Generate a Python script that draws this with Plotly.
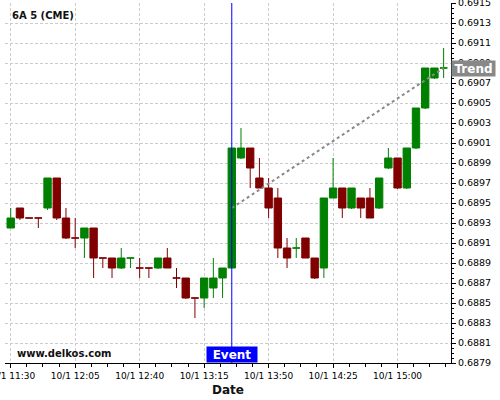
import plotly.graph_objects as go
import pandas as pd

# ---- data ----
times = pd.date_range("2025-10-01 11:30", periods=48, freq="5min")
opens = [0.68925, 0.68945, 0.68935, 0.68935, 0.68945, 0.68975, 0.68935, 0.68915,
         0.68915, 0.68925, 0.68895, 0.68895, 0.68885, 0.68895, 0.68885, 0.68885,
         0.68885, 0.68895, 0.68875, 0.68875, 0.68855, 0.68855, 0.68865, 0.68875,
         0.68885, 0.68995, 0.69005, 0.68975, 0.68965, 0.68955, 0.68905, 0.68905,
         0.68915, 0.68895, 0.68885, 0.68955, 0.68965, 0.68945, 0.68955, 0.68955,
         0.68945, 0.68985, 0.68995, 0.68965, 0.69005, 0.69045, 0.69075, 0.69085]
highs = [0.68945, 0.68945, 0.68935, 0.68935, 0.68975, 0.68975, 0.68945, 0.68935,
         0.68925, 0.68925, 0.68895, 0.68895, 0.68905, 0.68895, 0.68895, 0.68885,
         0.68895, 0.68905, 0.68885, 0.68875, 0.68855, 0.68875, 0.68895, 0.68885,
         0.69005, 0.69025, 0.69005, 0.68995, 0.68975, 0.68965, 0.68915, 0.68915,
         0.68915, 0.68895, 0.68955, 0.68995, 0.68965, 0.68965, 0.68955, 0.68965,
         0.68975, 0.69005, 0.68995, 0.69005, 0.69045, 0.69085, 0.69085, 0.69105]
lows = [0.68925, 0.68933, 0.68935, 0.68925, 0.68943, 0.68933, 0.68914, 0.68905,
        0.68895, 0.68875, 0.68885, 0.68875, 0.68884, 0.68885, 0.68875, 0.68875,
        0.68884, 0.68885, 0.68865, 0.68854, 0.68835, 0.68845, 0.68855, 0.68855,
        0.68885, 0.68994, 0.68965, 0.68965, 0.68935, 0.68895, 0.68885, 0.68895,
        0.68895, 0.68874, 0.68875, 0.68955, 0.68935, 0.68944, 0.68935, 0.68935,
        0.68944, 0.68984, 0.68964, 0.68964, 0.69004, 0.69044, 0.69074, 0.69075]
closes = [0.68935, 0.68935, 0.68935, 0.68935, 0.68975, 0.68935, 0.68915, 0.68915,
          0.68925, 0.68895, 0.68895, 0.68885, 0.68895, 0.68895, 0.68885, 0.68885,
          0.68895, 0.68885, 0.68875, 0.68855, 0.68855, 0.68875, 0.68875, 0.68885,
          0.69005, 0.69005, 0.68985, 0.68965, 0.68945, 0.68905, 0.68895, 0.68905,
          0.68895, 0.68875, 0.68955, 0.68965, 0.68945, 0.68965, 0.68945, 0.68935,
          0.68975, 0.68995, 0.68965, 0.69005, 0.69045, 0.69085, 0.69085, 0.69085]

event_time = "2025-10-01 13:30"
trend_x = ["2025-10-01 13:30", "2025-10-01 15:25"]
trend_y = [0.68945, 0.69085]

title_text = "6A 5 (CME)"
site_text = "www.delkos.com"
x_title = "Date"

FONT = "DejaVu Sans"
GREEN = "#008000"
RED = "#800000"
GRID = "#cccccc"

fig = go.Figure()
fig.add_trace(go.Candlestick(
    x=times, open=opens, high=highs, low=lows, close=closes,
    increasing=dict(line=dict(color=GREEN, width=1), fillcolor=GREEN),
    decreasing=dict(line=dict(color=RED, width=1), fillcolor=RED),
    whiskerwidth=0, showlegend=False, hoverinfo="skip",
))
fig.add_trace(go.Scatter(
    x=trend_x, y=trend_y, mode="lines",
    line=dict(color="#888888", width=2, dash="dot"),
    showlegend=False, hoverinfo="skip",
))

fig.add_shape(type="line", xref="x", yref="paper", x0=event_time, x1=event_time,
              y0=0, y1=1, line=dict(color="#0000ff", width=1), layer="above")

fig.add_annotation(x=event_time, xref="x", y=0, yref="paper", yanchor="bottom",
                   text="<b>Event</b>", showarrow=False, bgcolor="#0000ff",
                   font=dict(family=FONT, size=12, color="white"),
                   width=50, height=15, borderpad=0)
fig.add_annotation(x=1, xref="paper", y=trend_y[-1], yref="y", xanchor="left",
                   text="<b>Trend</b>", showarrow=False, bgcolor="#888888",
                   font=dict(family=FONT, size=12, color="white"),
                   width=43, height=15, borderpad=0)
fig.add_annotation(x=0.0112, xref="paper", y=0.9653, yref="paper", xanchor="left",
                   yanchor="middle", text="<b>" + title_text + "</b>", showarrow=False,
                   font=dict(family=FONT, size=10, color="#111111"))
fig.add_annotation(x=0.0224, xref="paper", y=0.0264, yref="paper", xanchor="left",
                   yanchor="middle", text="<b>" + site_text + "</b>", showarrow=False,
                   font=dict(family=FONT, size=10, color="#111111"))
fig.add_annotation(x=0.5, xref="paper", y=-0.075, yref="paper", xanchor="center",
                   yanchor="middle", text="<b>" + x_title + "</b>", showarrow=False,
                   font=dict(family=FONT, size=12, color="#111111"))

fig.update_layout(
    width=500, height=400,
    margin=dict(l=5, r=49, t=3, b=37, autoexpand=False),
    paper_bgcolor="white", plot_bgcolor="white",
    font=dict(family=FONT, size=9, color="black"),
    boxgap=0.2, boxgroupgap=0.0,
    xaxis=dict(
        type="date", range=["2025-10-01 11:26:54", "2025-10-01 15:29:00"],
        rangeslider=dict(visible=False),
        tick0="2025-10-01 11:30", dtick=2100000, tickformat="%-m/%-d %H:%M",
        ticks="outside", ticklen=4, tickcolor="black",
        minor=dict(dtick=525000, tick0="2025-10-01 11:30", ticks="outside",
                   ticklen=3, tickcolor="black", showgrid=False),
        showline=True, linecolor="black", linewidth=1,
        showgrid=True, gridcolor=GRID, griddash="3px,2px", gridwidth=1,
        zeroline=False, automargin=False, ticklabeloverflow="allow",
        tickfont=dict(family=FONT, size=9, color="black"),
    ),
    yaxis=dict(
        side="right", range=[0.6879, 0.6915], tick0=0.6879, dtick=0.0002,
        tickformat=".4f", ticks="outside", ticklen=4, tickcolor="black",
        minor=dict(dtick=0.00005, ticks="outside", ticklen=2, tickcolor="black",
                   showgrid=False),
        showline=True, linecolor="black", linewidth=1,
        showgrid=True, gridcolor=GRID, griddash="3px,2px", gridwidth=1,
        zeroline=False, automargin=False, ticklabeloverflow="allow",
        tickfont=dict(family=FONT, size=9.5, color="black"),
    ),
)

fig.write_html("out.html",
               config={"displayModeBar": False, "staticPlot": True},
               post_script="document.body.style.margin='0';document.body.style.overflow='hidden';")
